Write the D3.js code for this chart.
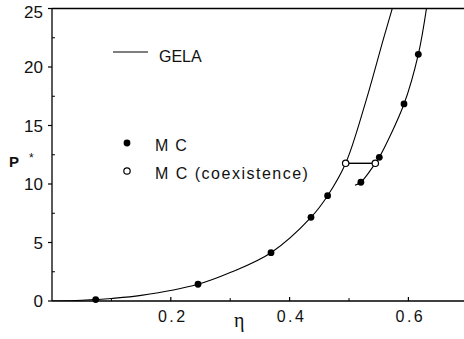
<!DOCTYPE html>
<html>
<head>
<meta charset="utf-8">
<script src="https://cdn.jsdelivr.net/npm/d3@7"></script>
<style>
  body { margin: 0; background: #fff; }
  svg { display: block; font-family: "Liberation Sans", Arial, sans-serif; }
</style>
</head>
<body>
<svg id="chart" width="464" height="339"></svg>
<script>
// GELA theory, fluid branch (eta, P*)
const gelaFluidEta = [0, 0.05, 0.1, 0.15, 0.2458, 0.301, 0.3687, 0.436, 0.464, 0.4944, 0.528, 0.558, 0.574];
const gelaFluidP   = [0, 0.07, 0.22, 0.48, 1.43, 2.45, 4.13, 7.15, 9.0, 11.77, 17.0, 22.4, 25.2];
// GELA theory, solid branch
const gelaSolidEta = [0.510, 0.520, 0.5443, 0.551, 0.5926, 0.6167, 0.631];
const gelaSolidP   = [9.9, 10.15, 11.77, 12.28, 16.84, 21.08, 25.2];
// Monte Carlo points
const mcEta = [0.0736, 0.2458, 0.3687, 0.436, 0.464, 0.520, 0.551, 0.5926, 0.6167];
const mcP   = [0.12, 1.43, 4.13, 7.15, 9.0, 10.15, 12.28, 16.84, 21.08];
// Monte Carlo coexistence points
const coexEta = [0.4944, 0.5443];
const coexP   = [11.77, 11.77];
// ticks
const xTicks = [0.2, 0.4, 0.6];
const xMinor = [0.1, 0.3, 0.5];
const yTicks = [0, 5, 10, 15, 20, 25];
const yMinor = [2.5, 7.5, 12.5, 17.5, 22.5];

const svg = d3.select('#chart');
const x = d3.scaleLinear().domain([0, 0.7]).range([52, 467.8]);
const y = d3.scaleLinear().domain([0, 25]).range([301, 8.5]);

const zip = (a, b) => a.map((v, i) => [v, b[i]]);

// axes frame
svg.append('line').attr('x1', x(0)).attr('x2', 464).attr('y1', y(0)).attr('y2', y(0))
  .attr('stroke', '#000').attr('stroke-width', 1.3);
svg.append('line').attr('x1', x(0)).attr('x2', 464).attr('y1', y(25)).attr('y2', y(25))
  .attr('stroke', '#000').attr('stroke-width', 1.3);
svg.append('line').attr('x1', x(0)).attr('x2', x(0)).attr('y1', y(0)).attr('y2', y(25))
  .attr('stroke', '#000').attr('stroke-width', 1.3);

// y ticks (outward) and minor ticks (inward)
svg.selectAll('.ytick').data(yTicks).enter().append('line')
  .attr('x1', x(0) - 4).attr('x2', x(0)).attr('y1', d => y(d)).attr('y2', d => y(d))
  .attr('stroke', '#000').attr('stroke-width', 1.2);
svg.selectAll('.yminor').data(yMinor).enter().append('line')
  .attr('x1', x(0)).attr('x2', x(0) + 3).attr('y1', d => y(d)).attr('y2', d => y(d))
  .attr('stroke', '#000').attr('stroke-width', 1);
svg.selectAll('.ylab').data(yTicks).enter().append('text')
  .attr('x', 43).attr('y', d => d === 25 ? y(d) + 3 : y(d))
  .attr('dy', '0.36em').attr('text-anchor', 'end')
  .attr('font-size', 17).attr('fill', '#111').text(d => d);

// x ticks (inward)
svg.selectAll('.xtick').data(xTicks).enter().append('line')
  .attr('x1', d => x(d)).attr('x2', d => x(d)).attr('y1', y(0)).attr('y2', y(0) - 4)
  .attr('stroke', '#000').attr('stroke-width', 1.2);
svg.selectAll('.xminor').data(xMinor).enter().append('line')
  .attr('x1', d => x(d)).attr('x2', d => x(d)).attr('y1', y(0)).attr('y2', y(0) - 3)
  .attr('stroke', '#000').attr('stroke-width', 1);
svg.selectAll('.xlab').data(xTicks).enter().append('text')
  .attr('x', d => x(d) + 2).attr('y', 321.5).attr('text-anchor', 'middle')
  .attr('font-size', 16).attr('letter-spacing', 2.5).attr('fill', '#111')
  .text(d => d.toFixed(1));

// axis titles
svg.append('text').attr('x', 9).attr('y', 167).attr('font-size', 15)
  .attr('font-weight', 'bold').attr('fill', '#111').text('P');
svg.append('text').attr('x', 29).attr('y', 162).attr('font-size', 12)
  .attr('fill', '#111').text('*');
svg.append('text').attr('x', 234).attr('y', 327).attr('font-size', 20)
  .attr('font-family', '"Liberation Serif", "DejaVu Serif", serif')
  .attr('fill', '#111').text('η');

// curves
const line = d3.line().x(d => x(d[0])).y(d => y(d[1])).curve(d3.curveCatmullRom.alpha(0.5));
svg.append('clipPath').attr('id', 'plot-clip').append('rect')
  .attr('x', x(0)).attr('y', y(25)).attr('width', 464 - x(0)).attr('height', y(0) - y(25));
const plot = svg.append('g').attr('clip-path', 'url(#plot-clip)');
plot.append('path').datum(zip(gelaFluidEta, gelaFluidP)).attr('d', line)
  .attr('fill', 'none').attr('stroke', '#000').attr('stroke-width', 1.1);
plot.append('path').datum(zip(gelaSolidEta, gelaSolidP)).attr('d', line)
  .attr('fill', 'none').attr('stroke', '#000').attr('stroke-width', 1.1);

// coexistence tie line
svg.append('line').attr('x1', x(coexEta[0])).attr('x2', x(coexEta[1]))
  .attr('y1', y(coexP[0])).attr('y2', y(coexP[1]))
  .attr('stroke', '#000').attr('stroke-width', 1.4);

// MC points
svg.selectAll('.mc').data(zip(mcEta, mcP)).enter().append('circle')
  .attr('cx', d => x(d[0])).attr('cy', d => y(d[1])).attr('r', 3.4).attr('fill', '#000');
svg.selectAll('.coex').data(zip(coexEta, coexP)).enter().append('circle')
  .attr('cx', d => x(d[0])).attr('cy', d => y(d[1])).attr('r', 3.2)
  .attr('fill', '#fff').attr('stroke', '#000').attr('stroke-width', 1.2);

// legend
svg.append('line').attr('x1', 113).attr('x2', 148).attr('y1', 52).attr('y2', 52)
  .attr('stroke', '#000').attr('stroke-width', 1.1);
svg.append('text').attr('x', 159).attr('y', 61.5).attr('font-size', 16)
  .attr('fill', '#111').text('GELA');
svg.append('circle').attr('cx', 127).attr('cy', 143).attr('r', 3.4).attr('fill', '#000');
svg.append('text').attr('x', 155).attr('y', 151).attr('font-size', 16)
  .attr('letter-spacing', 1.2).attr('fill', '#111').text('M C');
svg.append('circle').attr('cx', 127).attr('cy', 171).attr('r', 3.2)
  .attr('fill', '#fff').attr('stroke', '#000').attr('stroke-width', 1.2);
svg.append('text').attr('x', 155).attr('y', 179).attr('font-size', 16)
  .attr('letter-spacing', 1.5).attr('fill', '#111').text('M C (coexistence)');
</script>
</body>
</html>
